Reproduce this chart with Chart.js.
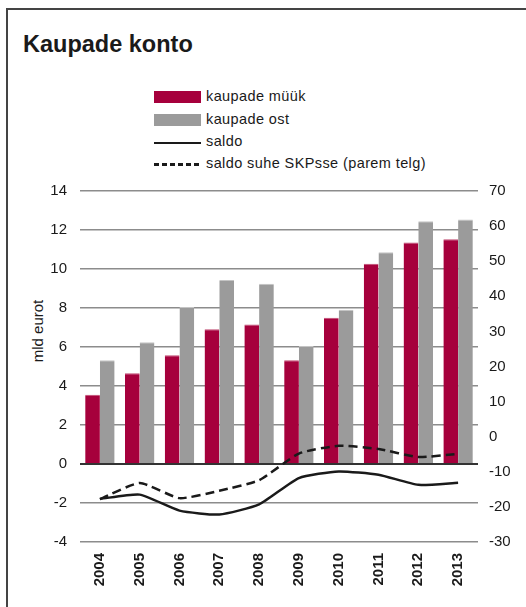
<!DOCTYPE html>
<html>
<head>
<meta charset="utf-8">
<script src="https://cdn.jsdelivr.net/npm/chart.js@4"></script>
<style>
  body { margin: 0; width: 526px; height: 607px; background: #fff; position: relative; overflow: hidden; font-family: "Liberation Sans", Arial, sans-serif; color: #1a1a1a; }
  #frame { position: absolute; left: 6px; top: 8px; width: 530px; height: 610px; border-top: 2px solid #444; border-left: 2px solid #444; }
  #title { position: absolute; left: 23px; top: 31px; font-size: 23.5px; font-weight: bold; }
  .lg { position: absolute; left: 206px; font-size: 14.5px; letter-spacing: 0.4px; }
  .sw { position: absolute; left: 154px; width: 47px; }
  .dash { position: absolute; left: 154px; top: 163px; width: 47px; height: 2.5px;
          background: repeating-linear-gradient(90deg, #1a1a1a 0 5px, transparent 5px 8px); }
  #ytitle { position: absolute; left: 37px; top: 331px; font-size: 15px; transform: translate(-50%, -50%) rotate(-90deg); white-space: nowrap; }
  #wrap { position: absolute; left: 0; top: 169px; width: 526px; height: 438px; }
</style>
</head>
<body>
<div id="frame"></div>
<div id="title">Kaupade konto</div>

<div class="sw" style="top:91px;height:12px;background:#a6003c"></div>
<div class="lg" style="top:88px">kaupade müük</div>
<div class="sw" style="top:114px;height:12px;background:#9b9b9b"></div>
<div class="lg" style="top:111px">kaupade ost</div>
<div class="sw" style="top:142px;height:0;border-top:2.5px solid #1a1a1a"></div>
<div class="lg" style="top:133px">saldo</div>
<div class="dash"></div>
<div class="lg" style="top:155px">saldo suhe SKPsse (parem telg)</div>

<div id="ytitle">mld eurot</div>

<div id="wrap"><canvas id="chart"></canvas></div>

<script>
const years = ["2004", "2005", "2006", "2007", "2008", "2009", "2010", "2011", "2012", "2013"];
const sales = [3.55, 4.66, 5.58, 6.91, 7.16, 5.32, 7.50, 10.27, 11.36, 11.53];
const purchases = [5.32, 6.24, 8.05, 9.43, 9.24, 6.05, 7.91, 10.86, 12.45, 12.54];
const balance = [-1.79, -1.57, -2.39, -2.59, -2.07, -0.72, -0.38, -0.55, -1.07, -0.96];
const balanceGdp = [-17.8, -13.2, -17.5, -15.4, -12.4, -4.8, -2.6, -3.5, -5.8, -4.9];

const font = "'Liberation Sans', Arial, sans-serif";

new Chart(document.getElementById("chart").getContext("2d"), {
  type: "bar",
  data: {
    labels: years,
    datasets: [
      {
        label: "kaupade müük",
        data: sales,
        backgroundColor: "#a6003c",
        borderColor: "#c04a70",
        borderWidth: { top: 1, left: 0, right: 0, bottom: 0 },
        borderSkipped: false,
        yAxisID: "y",
        order: 2
      },
      {
        label: "kaupade ost",
        data: purchases,
        backgroundColor: "#9b9b9b",
        borderColor: "#c4c4c4",
        borderWidth: { top: 1, left: 0, right: 0, bottom: 0 },
        borderSkipped: false,
        yAxisID: "y",
        order: 2
      },
      {
        type: "line",
        label: "saldo",
        data: balance,
        borderColor: "#1a1a1a",
        borderWidth: 2.5,
        pointRadius: 0,
        tension: 0.18,
        yAxisID: "y",
        order: 0
      },
      {
        type: "line",
        label: "saldo suhe SKPsse (parem telg)",
        data: balanceGdp,
        borderColor: "#1a1a1a",
        borderWidth: 2.5,
        borderDash: [9, 5],
        pointRadius: 0,
        tension: 0.18,
        yAxisID: "y2",
        order: 0
      }
    ]
  },
  options: {
    responsive: true,
    maintainAspectRatio: false,
    animation: false,
    layout: { padding: { top: 0, left: 0, right: 0, bottom: 0 } },
    categoryPercentage: 0.74,
    barPercentage: 1.0,
    plugins: {
      legend: { display: false },
      tooltip: { enabled: false }
    },
    scales: {
      x: {
        grid: { display: false, drawTicks: false },
        border: { display: false },
        ticks: {
          minRotation: 90,
          maxRotation: 90,
          padding: 11,
          color: "#1a1a1a",
          font: { family: font, size: 15, weight: "bold" }
        },
        afterFit: s => { s.height = 65; }
      },
      y: {
        position: "left",
        min: -4,
        max: 14,
        ticks: {
          stepSize: 2,
          padding: 13,
          color: "#1a1a1a",
          font: { family: font, size: 15 }
        },
        grid: {
          drawTicks: false,
          color: ctx => ctx.tick && ctx.tick.value === 0 ? "#333" : "#8c8c8c",
          lineWidth: ctx => ctx.tick && ctx.tick.value === 0 ? 2 : 1.5
        },
        border: { display: false },
        afterFit: s => { s.width = 80; }
      },
      y2: {
        position: "right",
        min: -30,
        max: 70,
        ticks: {
          stepSize: 10,
          padding: 11,
          color: "#1a1a1a",
          font: { family: font, size: 15 }
        },
        grid: { display: false, drawTicks: false },
        border: { display: false },
        afterFit: s => { s.width = 48; }
      }
    }
  }
});
</script>
</body>
</html>
